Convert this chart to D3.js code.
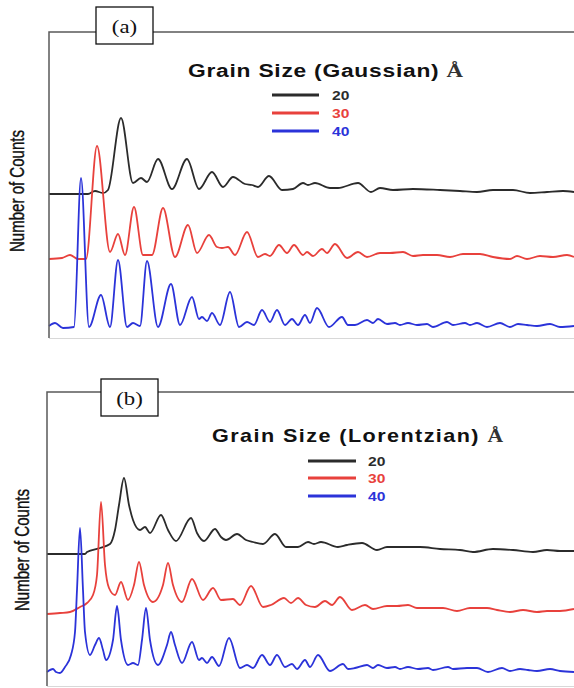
<!DOCTYPE html>
<html>
<head>
<meta charset="utf-8">
<script src="https://cdn.jsdelivr.net/npm/d3@7"></script>
<style>
  html, body { margin: 0; padding: 0; background: #fff; }
  svg { display: block; }
</style>
</head>
<body>
<svg id="chart" width="574" height="688"></svg>
<script>
// ---------------- DATA (channel, counts) ----------------
const seriesLabels = ["20", "30", "40"];
const seriesColors = ["#2b2b2b", "#e8413c", "#2b33d9"];
const panelTags = ["(a)", "(b)"];
const panelTitles = ["Grain Size (Gaussian) ", "Grain Size (Lorentzian) "];
const unitLabel = "Å";
const yAxisLabel = "Number of Counts";

// (a) Gaussian profile
const gauss20 = [[0,144],[21,144],[39,144],[46,147],[54,145],[59,148],[72,220],[84,155],[92,160],[98,156],[109,179],[123,149],[138,179],[150,149],[163,166],[174,151],[184,161],[196,154],[203,153],[209,151],[220,162],[233,148],[244,149],[254,155],[259,153],[266,155],[281,150],[289,150],[309,155],[322,146],[331,150],[344,148],[364,149],[391,148],[411,147],[428,146],[444,148],[464,148],[481,145],[498,146],[514,147],[525,146]];
const gauss30 = [[0,79],[13,80],[21,83],[29,79],[37,79],[48,192],[61,86],[69,104],[76,83],[85,131],[94,83],[103,83],[114,130],[126,81],[139,113],[148,85],[160,103],[168,91],[173,90],[179,91],[186,83],[198,106],[209,81],[216,84],[221,82],[230,93],[238,85],[245,93],[254,83],[258,86],[264,82],[273,89],[278,85],[286,94],[298,80],[309,86],[318,81],[331,85],[341,85],[354,86],[364,82],[374,83],[388,83],[401,81],[414,84],[431,84],[444,81],[461,79],[468,82],[478,79],[491,82],[504,81],[518,83],[525,81]];
const gauss40 = [[0,12],[6,15],[14,10],[25,11],[32,160],[40,11],[52,43],[61,11],[69,78],[78,11],[84,15],[91,12],[98,77],[109,11],[122,54],[131,13],[143,41],[150,19],[153,21],[158,17],[163,25],[171,13],[181,46],[190,11],[198,16],[205,13],[213,28],[221,16],[228,28],[236,13],[243,19],[249,13],[256,23],[261,15],[268,30],[280,11],[293,21],[299,13],[306,13],[318,18],[324,15],[329,19],[338,14],[346,15],[351,13],[359,15],[368,13],[378,14],[384,11],[398,16],[404,13],[416,15],[421,13],[428,15],[438,11],[451,15],[461,11],[469,14],[478,13],[488,12],[501,14],[511,11],[525,12]];

// (b) Lorentzian profile
const lorentz20 = [[0,132],[23,132],[38,132],[40,134],[53,138],[63,142],[68,156],[72,181],[77,208],[82,181],[86,166],[93,156],[98,159],[103,153],[114,171],[121,156],[129,145],[144,168],[150,153],[157,145],[168,157],[174,149],[179,146],[190,152],[199,146],[206,144],[216,142],[228,152],[239,139],[251,139],[261,144],[267,142],[274,144],[291,139],[300,141],[315,143],[330,136],[340,139],[353,139],[373,139],[393,137],[413,136],[426,134],[446,137],[466,136],[486,134],[500,136],[513,135],[527,135]];
const lorentz30 = [[0,72],[13,73],[23,74],[33,79],[40,83],[46,91],[50,111],[54,184],[58,121],[62,98],[68,91],[74,104],[81,86],[87,101],[92,124],[97,101],[106,84],[116,101],[121,123],[126,101],[135,84],[145,107],[156,86],[166,98],[174,86],[186,87],[193,81],[204,100],[216,79],[224,81],[237,88],[244,83],[251,88],[259,81],[268,79],[278,85],[285,81],[293,89],[305,76],[318,81],[326,77],[340,80],[350,80],[361,81],[370,78],[383,78],[396,78],[410,75],[423,78],[440,78],[450,76],[463,74],[476,76],[490,74],[500,75],[513,75],[527,77]];
const lorentz40 = [[0,14],[6,17],[9,14],[13,13],[18,19],[24,31],[28,54],[30,96],[33,158],[36,96],[38,54],[43,31],[48,41],[52,48],[56,36],[59,26],[66,46],[70,80],[74,46],[81,21],[86,23],[91,21],[95,46],[99,78],[103,46],[111,21],[120,41],[124,54],[128,41],[135,23],[145,44],[152,26],[155,28],[160,23],[165,29],[172,20],[182,48],[193,18],[200,21],[206,18],[215,31],[223,21],[230,31],[238,19],[245,22],[250,17],[258,26],[263,19],[271,31],[283,15],[296,22],[301,17],[308,18],[320,21],[326,18],[331,21],[340,18],[348,19],[353,17],[361,19],[371,17],[381,18],[386,16],[401,19],[406,17],[420,18],[430,18],[441,14],[455,18],[463,15],[473,17],[481,16],[490,15],[503,17],[513,15],[527,14]];

// ---------------- LAYOUT ----------------
const SX = 1.2; // horizontal stretch of the original figure's lettering
const panels = [
  { series: [gauss20, gauss30, gauss40], xMax: 525, yMax: 306,
    left: 49, right: 574, top: 32, bottom: 338,
    tagBox: {x: 96, y: 7, w: 57, h: 37}, tagBase: 33,
    titleX: 188, titleY: 77, titleW: 275, titleSize: 19,
    legX1: 272, legX2: 319, legY: [95, 113, 131], legTextX: 332,
    yLabelX: 24, yLabelCY: 191 },
  { series: [lorentz20, lorentz30, lorentz40], xMax: 527, yMax: 294,
    left: 47, right: 574, top: 392, bottom: 686,
    tagBox: {x: 101, y: 379, w: 57, h: 37}, tagBase: 405,
    titleX: 212, titleY: 442, titleW: 291, titleSize: 18,
    legX1: 308, legX2: 356, legY: [461, 478, 496], legTextX: 368,
    yLabelX: 29, yLabelCY: 550 }
];

const svg = d3.select("#chart");

panels.forEach((p, pi) => {
  const x = d3.scaleLinear().domain([0, p.xMax]).range([p.left, p.right]);
  const y = d3.scaleLinear().domain([0, p.yMax]).range([p.bottom, p.top]);
  const g = svg.append("g");

  // faint bottom axis
  g.append("line")
    .attr("x1", p.left).attr("x2", p.right)
    .attr("y1", p.bottom + 0.5).attr("y2", p.bottom + 0.5)
    .attr("stroke", "#d8d8d8").attr("stroke-width", 1);

  // curves
  const line = d3.line()
    .x(d => x(d[0])).y(d => y(d[1]))
    .curve(d3.curveMonotoneX);
  p.series.forEach((s, i) => {
    g.append("path")
      .datum(s)
      .attr("d", line)
      .attr("fill", "none")
      .attr("stroke", seriesColors[i])
      .attr("stroke-width", 1.8)
      .attr("stroke-linejoin", "round");
  });

  // frame: left and top
  g.append("path")
    .attr("d", `M${p.left},${p.bottom} L${p.left},${p.top} L${p.right},${p.top}`)
    .attr("fill", "none")
    .attr("stroke", "#5a5a5a")
    .attr("stroke-width", 1.5);

  // tag box
  g.append("rect")
    .attr("x", p.tagBox.x).attr("y", p.tagBox.y)
    .attr("width", p.tagBox.w).attr("height", p.tagBox.h)
    .attr("fill", "#fff").attr("stroke", "#111").attr("stroke-width", 1.3);
  g.append("text")
    .attr("transform", `translate(${p.tagBox.x + p.tagBox.w / 2},${p.tagBase}) scale(${SX},1)`)
    .attr("text-anchor", "middle")
    .attr("font-family", "'Liberation Serif', 'DejaVu Serif', serif")
    .attr("font-size", 19)
    .attr("fill", "#111")
    .text(panelTags[pi]);

  // title
  const t = g.append("text")
    .attr("transform", `translate(${p.titleX},${p.titleY}) scale(${SX},1)`)
    .attr("font-family", "'Liberation Sans', Arial, sans-serif")
    .attr("font-weight", "bold")
    .attr("font-size", p.titleSize)
    .attr("fill", "#111")
    .attr("textLength", p.titleW / SX)
    .attr("lengthAdjust", "spacing");
  t.append("tspan").text(panelTitles[pi]);
  t.append("tspan")
    .attr("font-family", "'Liberation Serif', 'DejaVu Serif', serif")
    .attr("fill", "#333")
    .text(unitLabel);

  // legend
  seriesLabels.forEach((lab, i) => {
    g.append("line")
      .attr("x1", p.legX1).attr("x2", p.legX2)
      .attr("y1", p.legY[i]).attr("y2", p.legY[i])
      .attr("stroke", seriesColors[i]).attr("stroke-width", 3);
    g.append("text")
      .attr("transform", `translate(${p.legTextX},${p.legY[i] + 4.5}) scale(${SX},1)`)
      .attr("font-family", "'Liberation Sans', Arial, sans-serif")
      .attr("font-weight", "bold")
      .attr("font-size", 13)
      .attr("fill", seriesColors[i])
      .text(lab);
  });

  // y label
  g.append("text")
    .attr("transform", `translate(${p.yLabelX},${p.yLabelCY}) scale(1.3,1) rotate(-90)`)
    .attr("text-anchor", "middle")
    .attr("font-family", "'Liberation Sans', Arial, sans-serif")
    .attr("font-size", 15)
    .attr("fill", "#111")
    .attr("stroke", "#111")
    .attr("stroke-width", 0.3)
    .attr("textLength", 122)
    .attr("lengthAdjust", "spacingAndGlyphs")
    .text(yAxisLabel);
});
</script>
</body>
</html>
